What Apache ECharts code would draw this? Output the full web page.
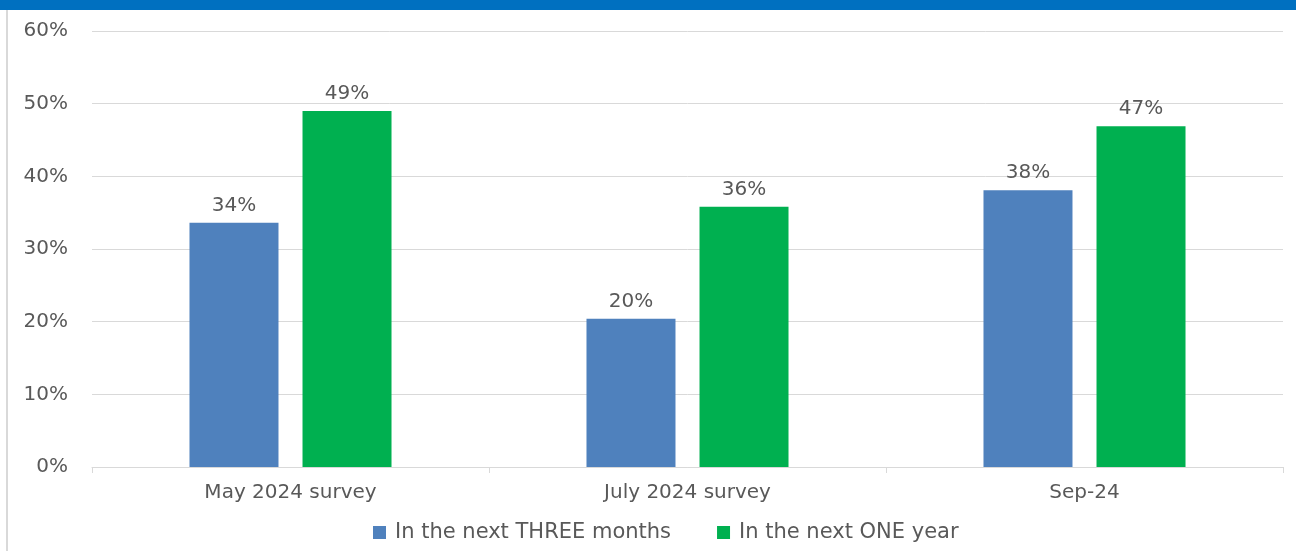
<!DOCTYPE html>
<html>
<head>
<meta charset="utf-8">
<script src="https://cdn.jsdelivr.net/npm/echarts@6/dist/echarts.min.js"></script>
<style>
  html, body { margin: 0; padding: 0; background: #fff; }
  #chart { width: 1296px; height: 551px; }
</style>
</head>
<body>
<div id="chart"></div>
<script>
// Survey waves and the share of respondents for each horizon (%)
const categories = ['May 2024 survey', 'July 2024 survey', 'Sep-24'];
const seriesNames = ['In the next THREE months', 'In the next ONE year'];
const threeMonths = [33.6, 20.4, 38.1];
const oneYear = [49.0, 35.8, 46.9];
const yTicks = { min: 0, max: 60, interval: 10 };

const FONT = 'DejaVu Sans';
const TEXT = '#595959';
const GRID = '#D9D9D9';

const labelStyle = {
  show: true,
  position: 'top',
  distance: 7,
  color: TEXT,
  fontFamily: FONT,
  fontSize: 20,
  formatter: p => Math.round(p.value) + '%'
};

const chart = echarts.init(document.getElementById('chart'), null, { renderer: 'canvas' });
chart.setOption({
  animation: false,
  backgroundColor: '#fff',
  textStyle: { fontFamily: FONT },
  graphic: [
    { type: 'rect', left: 0, top: 0, shape: { width: 1296, height: 10 }, style: { fill: '#0070C0' }, silent: true },
    { type: 'rect', left: 6, top: 10, shape: { width: 2, height: 541 }, style: { fill: GRID }, silent: true }
  ],
  grid: { left: 92, right: 13, top: 31, bottom: 84, containLabel: false },
  legend: {
    left: 373,
    top: 522,
    padding: 0,
    icon: 'rect',
    itemWidth: 13,
    itemHeight: 13,
    itemGap: 46,
    textStyle: { color: TEXT, fontFamily: FONT, fontSize: 21, padding: [0, 0, 0, 4] },
    data: seriesNames
  },
  xAxis: {
    type: 'category',
    data: categories,
    axisLine: { lineStyle: { color: GRID, width: 1 } },
    axisTick: { show: true, length: 6, lineStyle: { color: GRID } },
    axisLabel: { color: TEXT, fontFamily: FONT, fontSize: 20, margin: 16 }
  },
  yAxis: {
    type: 'value',
    min: yTicks.min,
    max: yTicks.max,
    interval: yTicks.interval,
    axisLine: { show: false },
    axisTick: { show: false },
    splitLine: { lineStyle: { color: GRID, width: 1 } },
    axisLabel: { color: TEXT, fontFamily: FONT, fontSize: 20, margin: 24, formatter: '{value}%' }
  },
  series: [
    {
      name: seriesNames[0],
      type: 'bar',
      data: threeMonths,
      barWidth: 89,
      barGap: '27%',
      itemStyle: { color: '#4F81BD' },
      label: labelStyle
    },
    {
      name: seriesNames[1],
      type: 'bar',
      data: oneYear,
      barWidth: 89,
      itemStyle: { color: '#00B050' },
      label: labelStyle
    }
  ]
});
</script>
</body>
</html>
